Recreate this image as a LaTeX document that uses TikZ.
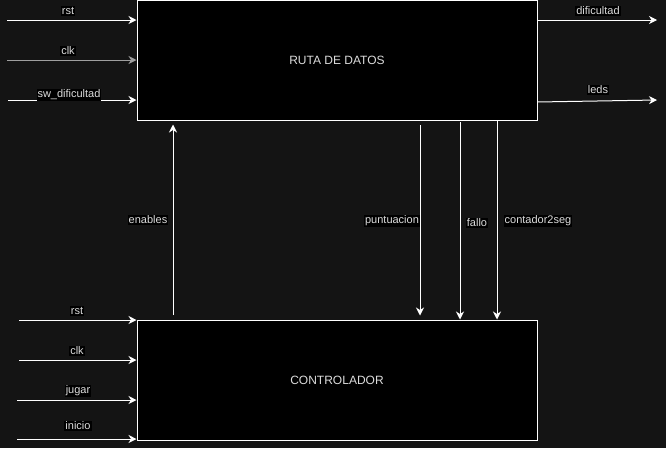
\documentclass[tikz,border=0pt]{standalone}
\usepackage{fontspec}
\setmainfont{Liberation Sans}
\usetikzlibrary{arrows.meta}
\definecolor{canvas}{HTML}{141414}
\definecolor{txt}{HTML}{DCDCDC}
\begin{document}
\begin{tikzpicture}[x=1pt,y=-1pt,
  blockbox/.style={draw=white, fill=black, line width=1pt, minimum width=400pt,
    minimum height=120pt, inner sep=0pt, text=txt, font=\fontsize{12}{14}\selectfont},
  sig/.style={draw=white, line width=1pt,
    -{Stealth[length=8pt,width=8pt,inset=2.5pt]}},
  lbl/.style={fill=black, text=txt, font=\fontsize{11}{13}\selectfont,
    inner sep=1pt}]
% canvas
\fill[canvas] (0,0) rectangle (666,448);
\useasboundingbox (0,0) rectangle (666,448);

% blocks
\node[blockbox] (ruta) at (337,60) {RUTA DE DATOS};
\node[blockbox] (ctrl) at (337,380) {CONTROLADOR};

% inputs of the datapath
\coordinate (rrst) at (7,20);
\coordinate (rclk) at (7,60);
\coordinate (rsw)  at (8,100);
\draw[sig] (rrst) -- (rrst -| ruta.west);
\draw[sig, draw=gray!75] (rclk) -- (rclk -| ruta.west);
\draw[sig] (rsw) -- (rsw -| ruta.west);
\node[lbl] (lrrst) at (68,11) {rst};
\node[lbl] (lrclk) at (68,51) {clk};
\node[lbl] (lrsw)  at (69,95) {sw\_dificultad};

% outputs of the datapath
\coordinate (odif) at (657,20);
\coordinate (oleds) at (657,100);
\coordinate (sleds) at (537,102);
\draw[sig] (odif -| ruta.east) -- (odif);
\draw[sig] (sleds) -- (oleds);
\node[lbl] (lodif)  at (598,11) {dificultad};
\node[lbl] (loleds) at (598,90) {leds};

% controller -> datapath
\coordinate (en0) at (173,315);
\draw[sig, shorten >=4pt] (en0) -- (en0 |- ruta.south);
\node[lbl] (len) at (148,220) {enables};

% datapath -> controller
\coordinate (pu0) at (420,125);
\coordinate (fa0) at (460,122);
\coordinate (co0) at (497,120);
\draw[sig, shorten >=4pt] (pu0) -- (pu0 |- ctrl.north);
\draw[sig] (fa0) -- (fa0 |- ctrl.north);
\draw[sig] (co0) -- (co0 |- ctrl.north);
\node[lbl] (lpu) at (392,221) {puntuacion};
\node[lbl] (lfa) at (477,223) {fallo};
\node[lbl] (lco) at (538,221) {contador2seg};

% inputs of the controller
\coordinate (crst) at (19,320);
\coordinate (cclk) at (19,360);
\coordinate (cjug) at (17,400);
\coordinate (cini) at (17,439);
\draw[sig] (crst) -- (crst -| ctrl.west);
\draw[sig] (cclk) -- (cclk -| ctrl.west);
\draw[sig] (cjug) -- (cjug -| ctrl.west);
\draw[sig] (cini) -- (cini -| ctrl.west);
\node[lbl] (lcrst) at (77,311) {rst};
\node[lbl] (lcclk) at (77,351) {clk};
\node[lbl] (lcjug) at (78,391) {jugar};
\node[lbl] (lcini) at (78,426) {inicio};
\end{tikzpicture}
\end{document}
